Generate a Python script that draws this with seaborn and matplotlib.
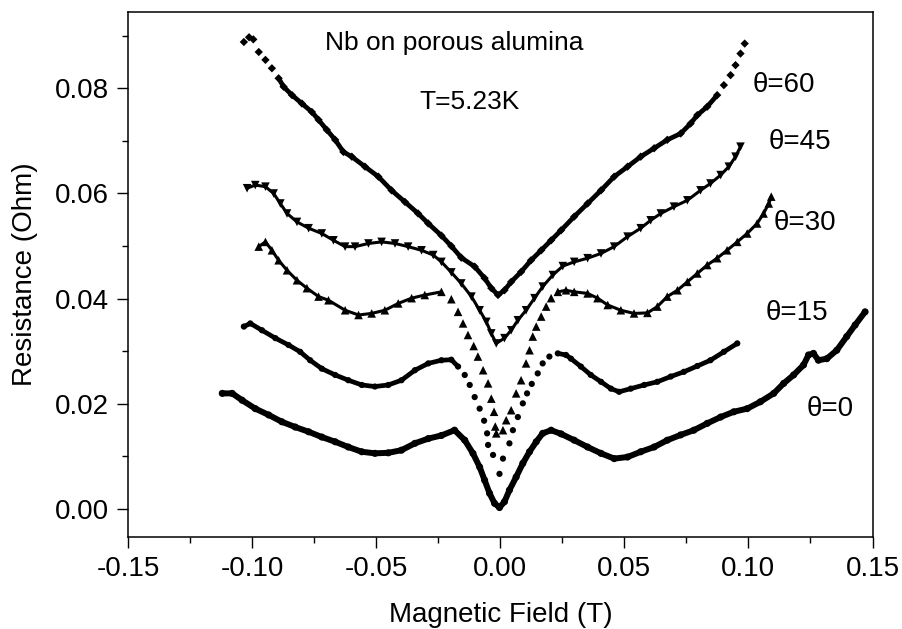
import numpy as np
import pandas as pd
import matplotlib.pyplot as plt
import seaborn as sns
from matplotlib.ticker import AutoMinorLocator, FormatStrFormatter

# magnetic field (T) and resistance (Ohm), one pair per angle
field_0 = [-0.1120, -0.1080, -0.1040, -0.0987, -0.0933, -0.0880, -0.0826, -0.0772, -0.0719, -0.0665,
           -0.0612, -0.0558, -0.0505, -0.0451, -0.0398, -0.0344, -0.0290, -0.0237, -0.0184, -0.0143,
           -0.0110, -0.0083, -0.0063, -0.0043, -0.0023, -0.0003, 0.0017, 0.0037, 0.0064, 0.0091,
           0.0118, 0.0145, 0.0171, 0.0205, 0.0245, 0.0298, 0.0352, 0.0406, 0.0459, 0.0513,
           0.0566, 0.0620, 0.0673, 0.0727, 0.0780, 0.0834, 0.0888, 0.0941, 0.0995, 0.1048,
           0.1102, 0.1142, 0.1182, 0.1222, 0.1242, 0.1262, 0.1282, 0.1316, 0.1356, 0.1396,
           0.1430, 0.1470]
res_0 = [0.0220, 0.0220, 0.0207, 0.0191, 0.0179, 0.0166, 0.0156, 0.0147, 0.0137, 0.0128,
         0.0118, 0.0109, 0.0106, 0.0107, 0.0112, 0.0125, 0.0134, 0.0140, 0.0150, 0.0131,
         0.0106, 0.0080, 0.0055, 0.0030, 0.0011, 0.0003, 0.0014, 0.0036, 0.0061, 0.0087,
         0.0109, 0.0128, 0.0144, 0.0150, 0.0143, 0.0131, 0.0118, 0.0106, 0.0096, 0.0099,
         0.0109, 0.0118, 0.0131, 0.0141, 0.0150, 0.0163, 0.0175, 0.0185, 0.0191, 0.0204,
         0.0220, 0.0239, 0.0255, 0.0274, 0.0293, 0.0296, 0.0283, 0.0286, 0.0302, 0.0328,
         0.0350, 0.0375]

field_15 = [-0.1033, -0.1007, -0.0960, -0.0906, -0.0853, -0.0806, -0.0766, -0.0719, -0.0665, -0.0612,
            -0.0558, -0.0505, -0.0451, -0.0398, -0.0344, -0.0290, -0.0237, -0.0197, -0.0170, -0.0143,
            -0.0123, -0.0103, -0.0083, -0.0065, -0.0053, -0.0049, -0.0029, -0.0003, 0.0011, 0.0037,
            0.0051, 0.0071, 0.0091, 0.0108, 0.0127, 0.0151, 0.0171, 0.0198, 0.0232, 0.0265,
            0.0285, 0.0325, 0.0365, 0.0406, 0.0446, 0.0479, 0.0526, 0.0580, 0.0633, 0.0687,
            0.0740, 0.0794, 0.0847, 0.0901, 0.0955]
res_15 = [0.0347, 0.0353, 0.0340, 0.0325, 0.0312, 0.0299, 0.0283, 0.0267, 0.0255, 0.0245,
          0.0236, 0.0233, 0.0236, 0.0245, 0.0264, 0.0277, 0.0283, 0.0284, 0.0271, 0.0255,
          0.0236, 0.0213, 0.0191, 0.0168, 0.0144, 0.0122, 0.0103, 0.0067, 0.0096, 0.0125,
          0.0150, 0.0175, 0.0201, 0.0220, 0.0238, 0.0258, 0.0277, 0.0290, 0.0296, 0.0293,
          0.0286, 0.0271, 0.0255, 0.0242, 0.0229, 0.0223, 0.0229, 0.0236, 0.0242, 0.0252,
          0.0261, 0.0272, 0.0283, 0.0299, 0.0315]

field_30 = [-0.0973, -0.0946, -0.0920, -0.0893, -0.0859, -0.0819, -0.0779, -0.0732, -0.0692, -0.0625,
            -0.0571, -0.0518, -0.0465, -0.0411, -0.0357, -0.0304, -0.0237, -0.0197, -0.0170, -0.0150,
            -0.0130, -0.0107, -0.0090, -0.0069, -0.0049, -0.0036, -0.0025, -0.0020, -0.0016, 0.0011,
            0.0024, 0.0044, 0.0064, 0.0084, 0.0104, 0.0118, 0.0131, 0.0145, 0.0165, 0.0185,
            0.0205, 0.0232, 0.0265, 0.0298, 0.0352, 0.0392, 0.0433, 0.0486, 0.0539, 0.0593,
            0.0633, 0.0673, 0.0714, 0.0754, 0.0794, 0.0834, 0.0874, 0.0914, 0.0955, 0.0995,
            0.1035, 0.1061, 0.1082, 0.1092]
res_30 = [0.0499, 0.0508, 0.0492, 0.0473, 0.0454, 0.0435, 0.0420, 0.0404, 0.0397, 0.0378,
          0.0369, 0.0372, 0.0378, 0.0391, 0.0401, 0.0407, 0.0413, 0.0399, 0.0375, 0.0353,
          0.0331, 0.0310, 0.0290, 0.0264, 0.0239, 0.0210, 0.0185, 0.0157, 0.0144, 0.0150,
          0.0169, 0.0188, 0.0220, 0.0245, 0.0277, 0.0302, 0.0328, 0.0347, 0.0366, 0.0385,
          0.0401, 0.0413, 0.0416, 0.0413, 0.0410, 0.0401, 0.0388, 0.0378, 0.0372, 0.0373,
          0.0385, 0.0404, 0.0416, 0.0432, 0.0448, 0.0464, 0.0477, 0.0492, 0.0508, 0.0524,
          0.0543, 0.0562, 0.0581, 0.0594]

field_45 = [-0.1020, -0.0987, -0.0946, -0.0913, -0.0886, -0.0859, -0.0819, -0.0772, -0.0719, -0.0672,
            -0.0625, -0.0585, -0.0531, -0.0478, -0.0424, -0.0371, -0.0317, -0.0270, -0.0237, -0.0197,
            -0.0157, -0.0116, -0.0083, -0.0056, -0.0036, -0.0016, 0.0017, 0.0044, 0.0071, 0.0104,
            0.0138, 0.0171, 0.0212, 0.0252, 0.0298, 0.0352, 0.0406, 0.0459, 0.0513, 0.0566,
            0.0606, 0.0647, 0.0700, 0.0754, 0.0807, 0.0847, 0.0888, 0.0921, 0.0948, 0.0968]
res_45 = [0.0610, 0.0616, 0.0613, 0.0600, 0.0581, 0.0562, 0.0546, 0.0534, 0.0524, 0.0511,
          0.0499, 0.0499, 0.0505, 0.0508, 0.0505, 0.0499, 0.0492, 0.0483, 0.0470, 0.0450,
          0.0429, 0.0404, 0.0378, 0.0356, 0.0334, 0.0315, 0.0325, 0.0340, 0.0359, 0.0378,
          0.0401, 0.0423, 0.0445, 0.0462, 0.0470, 0.0477, 0.0486, 0.0499, 0.0518, 0.0534,
          0.0549, 0.0562, 0.0575, 0.0587, 0.0606, 0.0619, 0.0635, 0.0651, 0.0670, 0.0689]

field_60 = [-0.1033, -0.1012, -0.0995, -0.0973, -0.0946, -0.0920, -0.0893, -0.0873, -0.0839, -0.0799,
            -0.0759, -0.0732, -0.0699, -0.0665, -0.0632, -0.0598, -0.0545, -0.0491, -0.0438, -0.0384,
            -0.0331, -0.0290, -0.0237, -0.0197, -0.0157, -0.0103, -0.0063, -0.0036, -0.0009, 0.0017,
            0.0044, 0.0084, 0.0124, 0.0165, 0.0205, 0.0245, 0.0298, 0.0352, 0.0406, 0.0459,
            0.0513, 0.0566, 0.0620, 0.0673, 0.0727, 0.0767, 0.0794, 0.0834, 0.0874, 0.0901,
            0.0928, 0.0948, 0.0968, 0.0985]
res_60 = [0.0888, 0.0897, 0.0893, 0.0869, 0.0854, 0.0838, 0.0819, 0.0803, 0.0787, 0.0771,
          0.0755, 0.0740, 0.0721, 0.0702, 0.0679, 0.0670, 0.0651, 0.0632, 0.0606, 0.0584,
          0.0562, 0.0543, 0.0520, 0.0500, 0.0478, 0.0461, 0.0439, 0.0420, 0.0407, 0.0416,
          0.0432, 0.0451, 0.0473, 0.0492, 0.0511, 0.0530, 0.0556, 0.0581, 0.0606, 0.0632,
          0.0651, 0.0670, 0.0686, 0.0702, 0.0714, 0.0733, 0.0749, 0.0765, 0.0787, 0.0806,
          0.0825, 0.0844, 0.0866, 0.0885]

angles = ["θ=0", "θ=15", "θ=30", "θ=45", "θ=60"]
fields = [field_0, field_15, field_30, field_45, field_60]
resistances = [res_0, res_15, res_30, res_45, res_60]

df = pd.concat(
    [pd.DataFrame({"field": f, "resistance": r, "angle": a})
     for a, f, r in zip(angles, fields, resistances)],
    ignore_index=True,
)

sns.set_style("ticks")
plt.rcParams["font.family"] = ["Liberation Sans", "DejaVu Sans"]
plt.rcParams["axes.unicode_minus"] = False
for key in ["text.color", "axes.labelcolor", "xtick.color", "ytick.color", "axes.edgecolor"]:
    plt.rcParams[key] = "black"

fig, ax = plt.subplots(figsize=(9.03, 6.29), dpi=100)
fig.subplots_adjust(left=0.1417, right=0.9668, bottom=0.1463, top=0.9809)

markers = {"θ=0": "o", "θ=15": "o", "θ=30": "^", "θ=45": "v", "θ=60": "D"}
msize = {"θ=0": 26, "θ=15": 20, "θ=30": 38, "θ=45": 38, "θ=60": 18}
lwidth = {"θ=0": 4.3, "θ=15": 3.4, "θ=30": 2.2, "θ=45": 2.2, "θ=60": 3.4}
# field ranges where the points are packed tightly enough to look like a line
spans = {
    "θ=0": [(-0.12, 0.15)],
    "θ=15": [(-0.11, -0.017), (0.022, 0.10)],
    "θ=30": [(-0.10, -0.022), (0.022, 0.11)],
    "θ=45": [(-0.11, 0.10)],
    "θ=60": [(-0.091, 0.088)],
}

for a in angles:
    sub = df[df["angle"] == a]
    for lo, hi in spans[a]:
        seg = sub[(sub["field"] >= lo) & (sub["field"] <= hi)]
        sns.lineplot(data=seg, x="field", y="resistance", sort=False, estimator=None,
                     color="black", lw=lwidth[a], ax=ax, legend=False)
    sns.scatterplot(data=sub, x="field", y="resistance", marker=markers[a], s=msize[a],
                    color="black", edgecolor="none", ax=ax, legend=False)

ax.set_xlim(-0.1495, 0.1502)
ax.set_ylim(-0.0053, 0.0945)
ax.set_xticks(np.arange(-0.15, 0.151, 0.05))
ax.set_yticks(np.arange(0.0, 0.081, 0.02))
ax.xaxis.set_major_formatter(FormatStrFormatter("%.2f"))
ax.yaxis.set_major_formatter(FormatStrFormatter("%.2f"))
ax.xaxis.set_minor_locator(AutoMinorLocator(2))
ax.yaxis.set_minor_locator(AutoMinorLocator(2))
ax.tick_params(which="major", direction="out", length=8, width=1, labelsize=20, pad=6)
ax.tick_params(which="minor", direction="out", length=4, width=1)
for s in ax.spines.values():
    s.set_linewidth(1.1)

ax.set_xlabel("Magnetic Field (T)", fontsize=20, labelpad=14)
ax.set_ylabel("Resistance (Ohm)", fontsize=20, labelpad=12)

ax.text(-0.0707, 0.0886, "Nb on porous alumina", fontsize=19, va="center")
ax.text(-0.0325, 0.0774, "T=5.23K", fontsize=19, va="center")

label_pos = {"θ=60": (0.1015, 0.0806), "θ=45": (0.1082, 0.0698), "θ=30": (0.1102, 0.0543),
             "θ=15": (0.1068, 0.0372), "θ=0": (0.1236, 0.0191)}
for a in angles:
    ax.text(*label_pos[a], a, fontsize=20, va="center")

fig.savefig("out.png", dpi=100)
